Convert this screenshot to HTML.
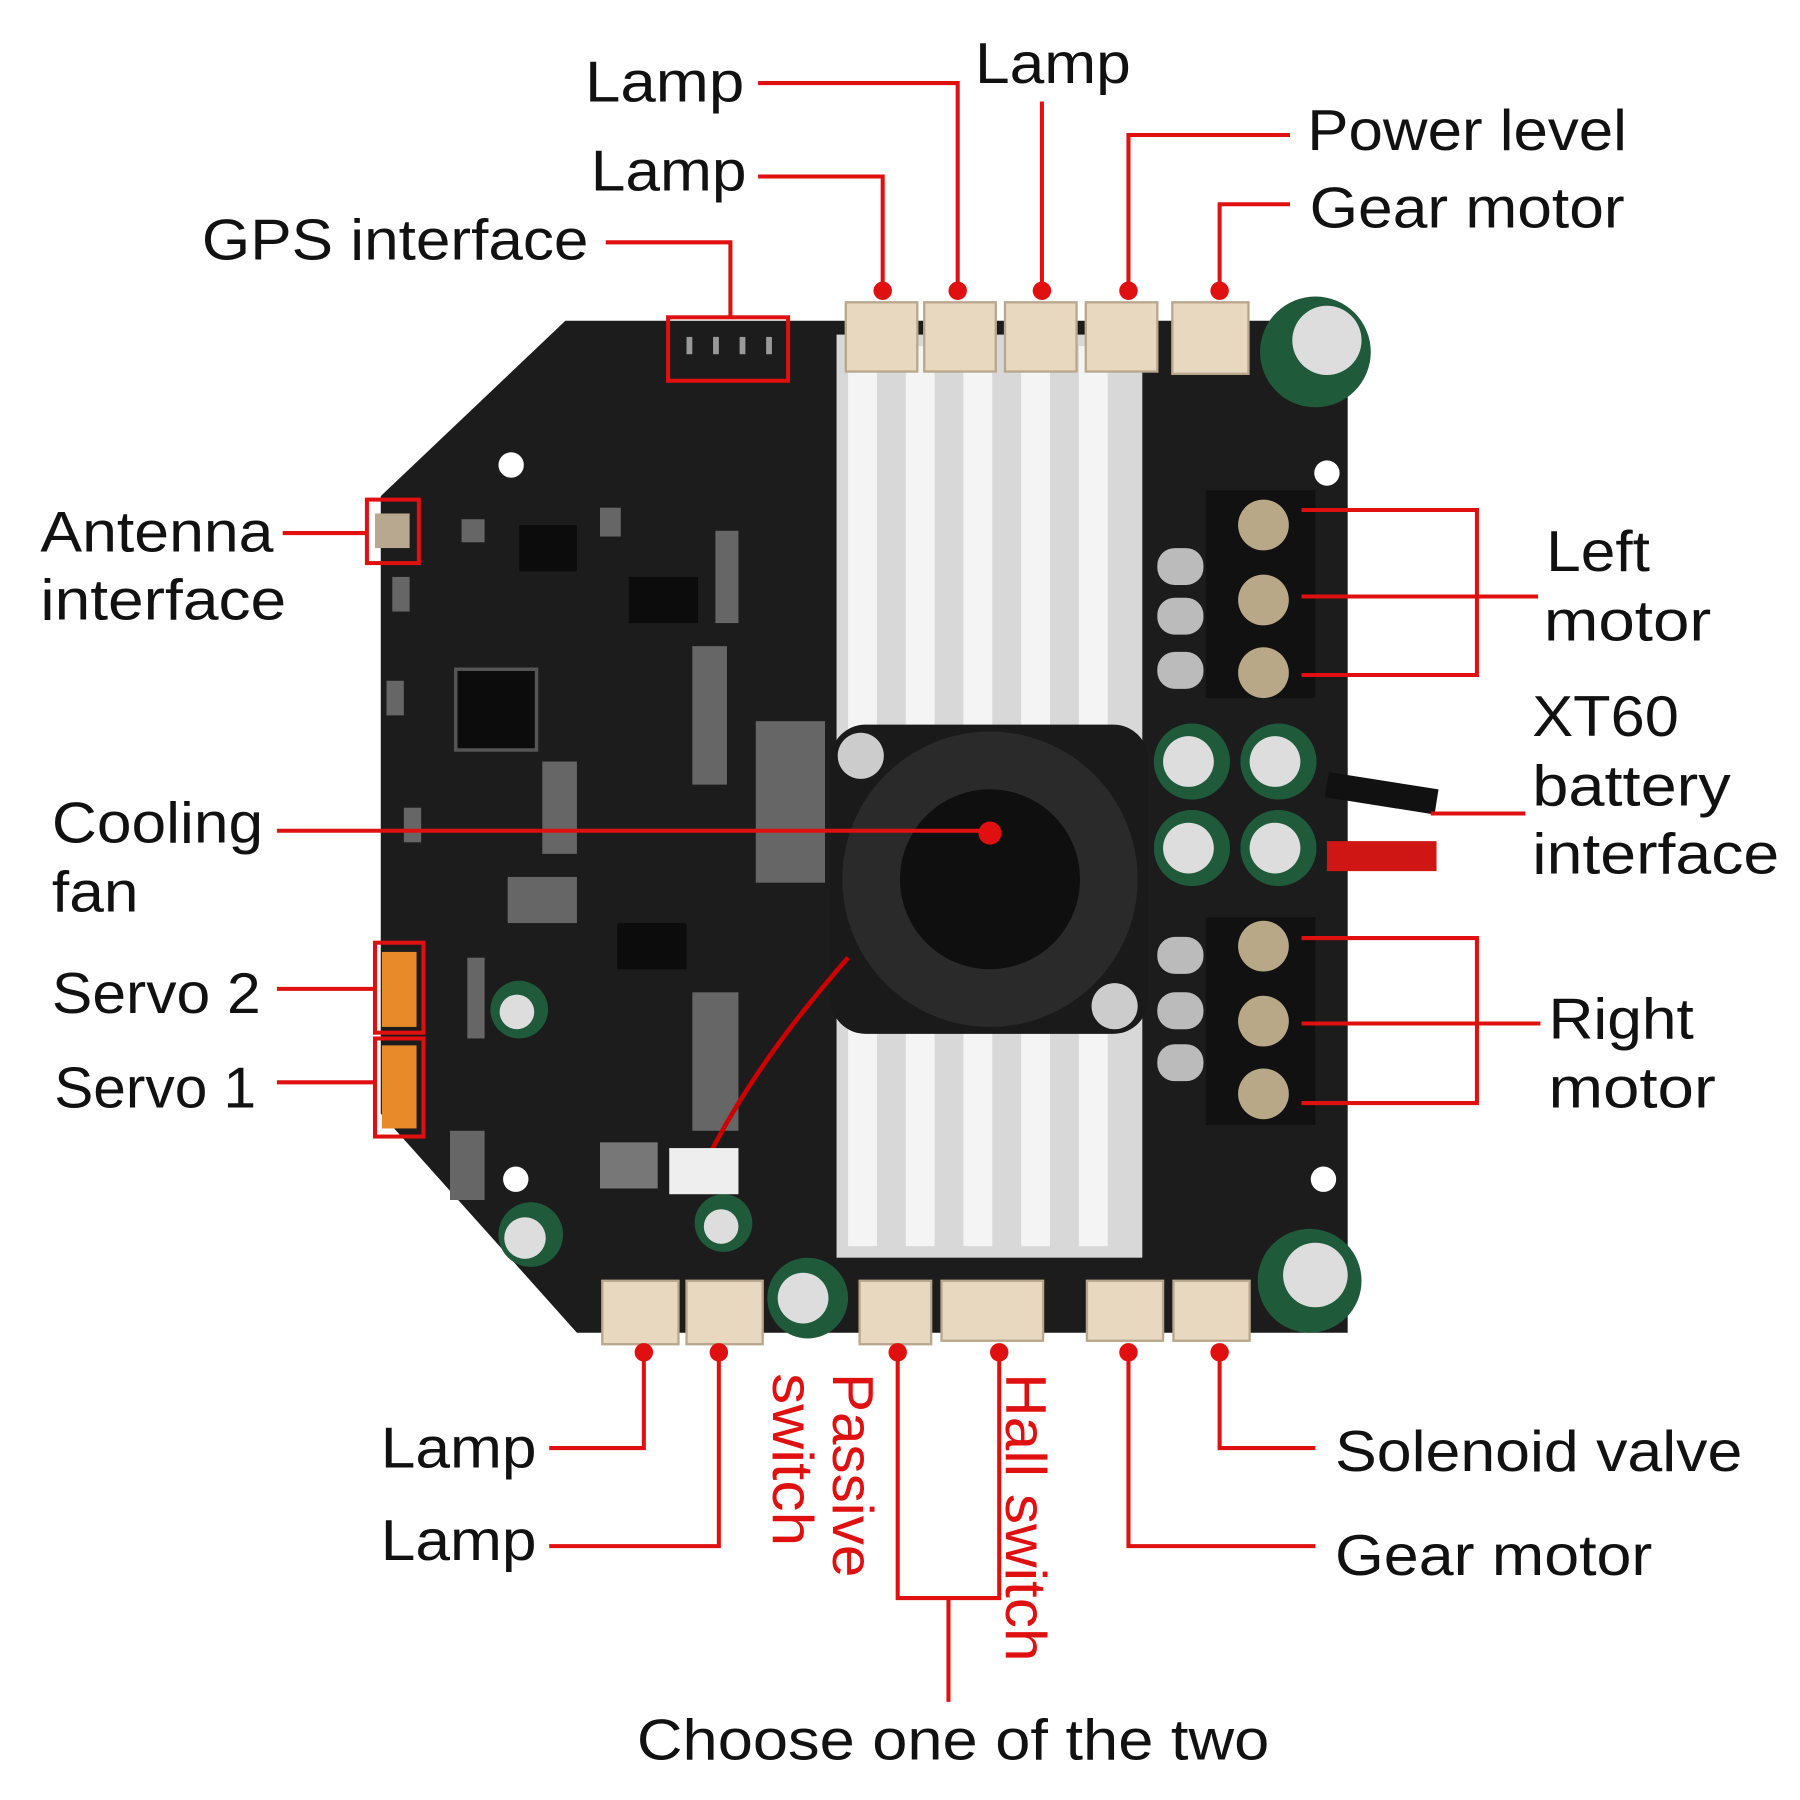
<!DOCTYPE html>
<html><head><meta charset="utf-8"><style>
html,body{margin:0;padding:0;background:#fff;width:1800px;height:1800px;overflow:hidden}
svg{display:block}
text{font-family:"Liberation Sans",sans-serif;font-size:50px;fill:#111}
</style></head><body>
<svg width="1800" height="1800" viewBox="0 0 1560 1560" xmlns="http://www.w3.org/2000/svg">
<polygon points="490,278 1168,278 1168,1155 500,1155 330,965 330,430" fill="#1c1c1c"/>
<rect x="395" y="580" width="70" height="70" fill="#0c0c0c" stroke="#555" stroke-width="3"/>
<rect x="545" y="500" width="60" height="40" fill="#0c0c0c"/>
<rect x="450" y="455" width="50" height="40" fill="#0c0c0c"/>
<rect x="535" y="800" width="60" height="40" fill="#0c0c0c"/>
<g fill="#666">
<rect x="400" y="450" width="20" height="20"/><rect x="520" y="440" width="18" height="25"/>
<rect x="620" y="460" width="20" height="80"/><rect x="600" y="560" width="30" height="120"/>
<rect x="470" y="660" width="30" height="80"/><rect x="440" y="760" width="60" height="40"/>
<rect x="600" y="860" width="40" height="120"/><rect x="390" y="980" width="30" height="60"/>
<rect x="340" y="500" width="15" height="30"/><rect x="335" y="590" width="15" height="30"/>
<rect x="350" y="700" width="15" height="30"/><rect x="405" y="830" width="15" height="70"/>
<rect x="655" y="625" width="60" height="140"/>
</g>
<circle cx="443" cy="403" r="11" fill="#fff"/><circle cx="447" cy="1022" r="11" fill="#fff"/>
<circle cx="1150" cy="410" r="11" fill="#fff"/><circle cx="1147" cy="1022" r="11" fill="#fff"/>
<rect x="725" y="290" width="265" height="800" fill="#d8d8d8"/>
<g fill="#f4f4f4"><rect x="735" y="300" width="25" height="780"/><rect x="785" y="300" width="25" height="780"/><rect x="835" y="300" width="25" height="780"/><rect x="885" y="300" width="25" height="780"/><rect x="935" y="300" width="25" height="780"/></g>
<rect x="720" y="628" width="275" height="268" rx="30" fill="#1a1a1a"/>
<circle cx="858" cy="762" r="128" fill="#2a2a2a"/>
<circle cx="858" cy="762" r="78" fill="#0f0f0f"/>
<circle cx="746" cy="655" r="20" fill="#ccc"/><circle cx="966" cy="872" r="20" fill="#ccc"/>
<path d="M735 830 C700 870 650 930 610 1010" stroke="#c00" stroke-width="4" fill="none"/>
<g fill="#999"><rect x="595" y="292" width="5" height="15"/><rect x="618" y="292" width="5" height="15"/><rect x="641" y="292" width="5" height="15"/><rect x="664" y="292" width="5" height="15"/></g>
<rect x="325" y="445" width="30" height="30" fill="#b8a890"/>
<rect x="331" y="825" width="30" height="65" fill="#e88a2a"/>
<rect x="331" y="906" width="30" height="72" fill="#e88a2a"/>
<g fill="#e8d8c0" stroke="#b8a78c" stroke-width="2">
<rect x="733" y="262" width="62" height="60"/><rect x="801" y="262" width="62" height="60"/><rect x="871" y="262" width="62" height="60"/><rect x="941" y="262" width="62" height="60"/><rect x="1016" y="262" width="66" height="62"/>
<rect x="522" y="1110" width="66" height="55"/><rect x="595" y="1110" width="66" height="55"/><rect x="745" y="1110" width="62" height="55"/><rect x="816" y="1110" width="88" height="52"/><rect x="942" y="1110" width="66" height="52"/><rect x="1017" y="1110" width="66" height="52"/>
</g>
<g fill="#1f5a3a"><circle cx="1140" cy="305" r="48"/><circle cx="1135" cy="1110" r="45"/><circle cx="1033" cy="660" r="33"/><circle cx="1108" cy="660" r="33"/><circle cx="1033" cy="735" r="33"/><circle cx="1108" cy="735" r="33"/><circle cx="700" cy="1125" r="35"/><circle cx="460" cy="1070" r="28"/><circle cx="450" cy="875" r="25"/><circle cx="627" cy="1060" r="25"/></g>
<g fill="#ddd"><circle cx="1150" cy="295" r="30"/><circle cx="1140" cy="1105" r="28"/><circle cx="1030" cy="660" r="22"/><circle cx="1105" cy="660" r="22"/><circle cx="1030" cy="735" r="22"/><circle cx="1105" cy="735" r="22"/><circle cx="696" cy="1125" r="22"/><circle cx="455" cy="1073" r="18"/><circle cx="448" cy="877" r="15"/><circle cx="625" cy="1063" r="15"/></g>
<rect x="1045" y="425" width="95" height="180" fill="#111"/><rect x="1045" y="795" width="95" height="180" fill="#111"/>
<g fill="#b8a888"><circle cx="1095" cy="455" r="22"/><circle cx="1095" cy="520" r="22"/><circle cx="1095" cy="583" r="22"/><circle cx="1095" cy="820" r="22"/><circle cx="1095" cy="885" r="22"/><circle cx="1095" cy="948" r="22"/></g>
<g fill="#bbb"><rect x="1003" y="475" width="40" height="32" rx="15"/><rect x="1003" y="518" width="40" height="32" rx="15"/><rect x="1003" y="565" width="40" height="32" rx="15"/><rect x="1003" y="812" width="40" height="32" rx="15"/><rect x="1003" y="860" width="40" height="32" rx="15"/><rect x="1003" y="905" width="40" height="32" rx="15"/></g>
<path d="M1150 680 L1245 695" stroke="#111" stroke-width="22"/>
<path d="M1150 742 L1245 742" stroke="#d01515" stroke-width="26"/>
<rect x="520" y="990" width="50" height="40" fill="#777"/><rect x="580" y="995" width="60" height="40" fill="#eee"/>

<g stroke="#e01010" stroke-width="3.5" fill="none">
<polyline points="657,72 830,72 830,252"/>
<polyline points="903,88 903,252"/>
<polyline points="657,153 765,153 765,252"/>
<polyline points="525,210 633,210 633,275"/>
<rect x="579" y="275" width="104" height="55"/>
<polyline points="1118,117 978,117 978,252"/>
<polyline points="1118,177 1057,177 1057,252"/>
<polyline points="245,462 318,462"/>
<rect x="318" y="433" width="45" height="55"/>
<polyline points="240,720 858,720"/>
<polyline points="240,857 325,857"/><rect x="325" y="817" width="42" height="78"/>
<polyline points="240,938 325,938"/><rect x="325" y="900" width="42" height="85"/>
<polyline points="1128,442 1280,442 1280,585 1128,585"/><polyline points="1128,517 1333,517"/>
<polyline points="1240,705 1322,705"/>
<polyline points="1128,813 1280,813 1280,956 1128,956"/><polyline points="1128,887 1335,887"/>
<polyline points="476,1255 558,1255 558,1172"/>
<polyline points="476,1340 623,1340 623,1172"/>
<polyline points="778,1172 778,1385 866,1385 866,1172"/><polyline points="822,1385 822,1475"/>
<polyline points="1140,1255 1057,1255 1057,1172"/>
<polyline points="1140,1340 978,1340 978,1172"/>
</g>
<g fill="#e01010">
<circle cx="765" cy="252" r="8"/><circle cx="830" cy="252" r="8"/><circle cx="903" cy="252" r="8"/><circle cx="978" cy="252" r="8"/><circle cx="1057" cy="252" r="8"/>
<circle cx="858" cy="722" r="10"/>
<circle cx="558" cy="1172" r="8"/><circle cx="623" cy="1172" r="8"/><circle cx="778" cy="1172" r="8"/><circle cx="866" cy="1172" r="8"/><circle cx="978" cy="1172" r="8"/><circle cx="1057" cy="1172" r="8"/>
</g>
<g lengthAdjust="spacingAndGlyphs">
<text x="507" y="88" textLength="138" lengthAdjust="spacingAndGlyphs">Lamp</text>
<text x="845" y="72" textLength="135" lengthAdjust="spacingAndGlyphs">Lamp</text>
<text x="512" y="165" textLength="135" lengthAdjust="spacingAndGlyphs">Lamp</text>
<text x="175" y="225" textLength="335" lengthAdjust="spacingAndGlyphs">GPS interface</text>
<text x="1133" y="130" textLength="277" lengthAdjust="spacingAndGlyphs">Power level</text>
<text x="1135" y="197" textLength="273" lengthAdjust="spacingAndGlyphs">Gear motor</text>
<text x="35" y="478" textLength="202" lengthAdjust="spacingAndGlyphs">Antenna</text><text x="35" y="537" textLength="213" lengthAdjust="spacingAndGlyphs">interface</text>
<text x="45" y="730" textLength="183" lengthAdjust="spacingAndGlyphs">Cooling</text><text x="45" y="790" textLength="75" lengthAdjust="spacingAndGlyphs">fan</text>
<text x="45" y="878" textLength="181" lengthAdjust="spacingAndGlyphs">Servo 2</text>
<text x="47" y="960" textLength="175" lengthAdjust="spacingAndGlyphs">Servo 1</text>
<text x="1340" y="495" textLength="90" lengthAdjust="spacingAndGlyphs">Left</text><text x="1338" y="555" textLength="145" lengthAdjust="spacingAndGlyphs">motor</text>
<text x="1328" y="638" textLength="127" lengthAdjust="spacingAndGlyphs">XT60</text><text x="1328" y="698" textLength="172" lengthAdjust="spacingAndGlyphs">battery</text><text x="1328" y="757" textLength="214" lengthAdjust="spacingAndGlyphs">interface</text>
<text x="1342" y="900" textLength="126" lengthAdjust="spacingAndGlyphs">Right</text><text x="1342" y="960" textLength="145" lengthAdjust="spacingAndGlyphs">motor</text>
<text x="330" y="1272" textLength="135" lengthAdjust="spacingAndGlyphs">Lamp</text>
<text x="330" y="1352" textLength="135" lengthAdjust="spacingAndGlyphs">Lamp</text>
<text x="1157" y="1275" textLength="353" lengthAdjust="spacingAndGlyphs">Solenoid valve</text>
<text x="1157" y="1365" textLength="275" lengthAdjust="spacingAndGlyphs">Gear motor</text>
<text x="552" y="1525" textLength="548" lengthAdjust="spacingAndGlyphs">Choose one of the two</text>
<text transform="translate(722,1190) rotate(90)" style="fill:#e01010" textLength="177" lengthAdjust="spacingAndGlyphs">Passive</text>
<text transform="translate(670,1190) rotate(90)" style="fill:#e01010" textLength="150" lengthAdjust="spacingAndGlyphs">switch</text>
<text transform="translate(872,1190) rotate(90)" style="fill:#e01010" textLength="250" lengthAdjust="spacingAndGlyphs">Hall switch</text>
</g>
</svg>
</body></html>
